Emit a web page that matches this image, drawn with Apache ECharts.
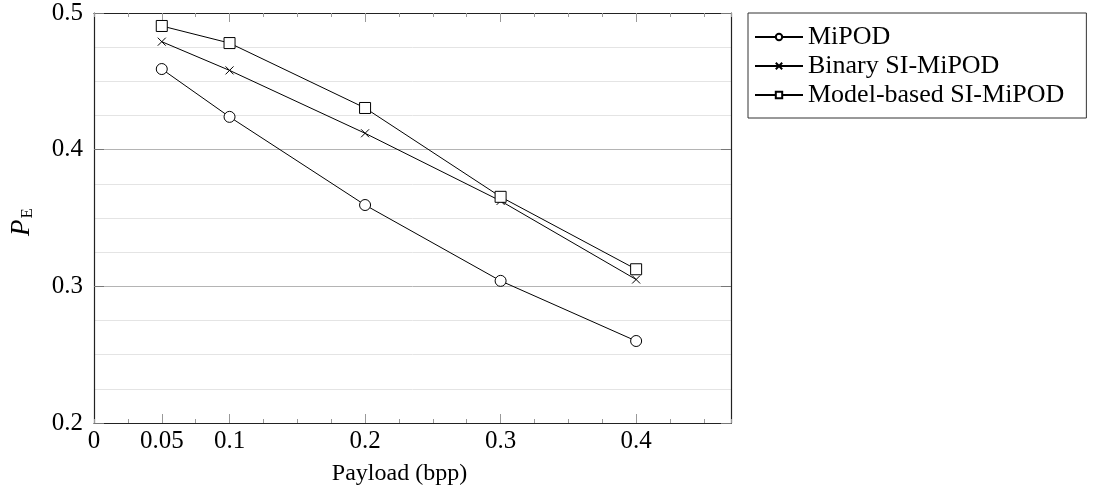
<!DOCTYPE html>
<html>
<head>
<meta charset="utf-8">
<script src="https://cdn.jsdelivr.net/npm/echarts@6/dist/echarts.min.js"></script>
<style>html,body{margin:0;padding:0;background:#fff;}#c{width:1093px;height:494px;}</style>
</head>
<body>
<div id="c"></div>
<script>
const payload = [0.05, 0.1, 0.2, 0.3, 0.4];
const mipod = [0.459, 0.424, 0.3595, 0.304, 0.260];
const binarySI = [0.479, 0.458, 0.412, 0.3625, 0.305];
const modelSI = [0.4905, 0.478, 0.4305, 0.3655, 0.3125];
const seriesNames = ['MiPOD', 'Binary SI-MiPOD', 'Model-based SI-MiPOD'];
const xLabelValues = [0, 0.05, 0.1, 0.2, 0.3, 0.4];
const xMajorTicks = [0.05, 0.1, 0.2, 0.3, 0.4];

const FONT = 'Liberation Serif';
const chart = echarts.init(document.getElementById('c'), null, {renderer: 'canvas'});
const pairs = arr => payload.map((x, i) => [x, arr[i]]);

const baseX = {
  type: 'value', min: 0, max: 0.47, gridIndex: 0,
  splitLine: {show: false}
};
const xAxes = [
  Object.assign({}, baseX, {
    position: 'bottom', interval: 0.025,
    axisLine: {show: true, onZero: false, lineStyle: {color: '#222', width: 1.2}},
    axisTick: {show: true, inside: true, length: 4, lineStyle: {color: '#999'}},
    axisLabel: {show: true, customValues: xLabelValues, margin: 6, color: '#000', fontFamily: FONT, fontSize: 25,
      formatter: v => String(+v.toFixed(3))},
    name: 'Payload (bpp)', nameLocation: 'middle', nameGap: 39,
    nameTextStyle: {color: '#000', fontFamily: FONT, fontSize: 24, padding: [0, 26, 0, 0]}
  }),
  Object.assign({}, baseX, {
    position: 'bottom',
    axisLine: {show: false, onZero: false},
    axisTick: {show: true, inside: true, length: 9, customValues: xMajorTicks, lineStyle: {color: '#999'}},
    axisLabel: {show: false}
  }),
  Object.assign({}, baseX, {
    position: 'top', interval: 0.025,
    axisLine: {show: true, onZero: false, lineStyle: {color: '#222', width: 1.2}},
    axisTick: {show: true, inside: true, length: 4, lineStyle: {color: '#999'}},
    axisLabel: {show: false}
  }),
  Object.assign({}, baseX, {
    position: 'top',
    axisLine: {show: false, onZero: false},
    axisTick: {show: true, inside: true, length: 9, customValues: xMajorTicks, lineStyle: {color: '#999'}},
    axisLabel: {show: false}
  })
];

const yAxes = [
  {
    type: 'value', position: 'left', min: 0.2, max: 0.5, interval: 0.1,
    axisLine: {show: true, onZero: false, lineStyle: {color: '#222', width: 1.2}},
    axisTick: {show: true, inside: true, length: 10, lineStyle: {color: '#777'}},
    axisLabel: {color: '#000', fontFamily: FONT, fontSize: 25, margin: 11, formatter: v => v.toFixed(1)},
    splitLine: {show: true, lineStyle: {color: '#b4b4b4', width: 1}},
    minorTick: {show: false, splitNumber: 4},
    minorSplitLine: {show: true, lineStyle: {color: '#e4e4e4', width: 1}},
    name: '{p|P}{e|E}', nameLocation: 'middle', nameGap: 58, nameRotate: 90,
    nameTextStyle: {
      rich: {
        p: {fontFamily: FONT, fontStyle: 'italic', fontSize: 27, color: '#000'},
        e: {fontFamily: FONT, fontSize: 17, color: '#000', verticalAlign: 'bottom', padding: [12, 8, 0, 1]}
      }
    }
  },
  {
    type: 'value', position: 'right', min: 0.2, max: 0.5, interval: 0.1,
    axisLine: {show: true, onZero: false, lineStyle: {color: '#222', width: 1.2}},
    axisTick: {show: true, inside: true, length: 10, lineStyle: {color: '#777'}},
    axisLabel: {show: false},
    splitLine: {show: false}
  }
];

const mkSeries = (name, data, symbol, size) => ({
  name, type: 'line', data: pairs(data), xAxisIndex: 0, yAxisIndex: 0,
  symbol, symbolSize: size, showAllSymbol: true,
  lineStyle: {color: '#000', width: 1},
  itemStyle: {color: '#fff', borderColor: '#000', borderWidth: 1},
  emphasis: {disabled: true}, animation: false, z: 5
});

chart.setOption({
  animation: false,
  backgroundColor: '#fff',
  grid: {left: 94, right: 362, top: 13, bottom: 71, containLabel: false},
  xAxis: xAxes,
  yAxis: yAxes,
  legend: {
    orient: 'vertical', left: 748, top: 13,
    data: seriesNames,
    itemWidth: 48, itemHeight: 8, itemGap: 3,
    padding: [11, 22, 10, 6],
    borderColor: '#333', borderWidth: 1,
    textStyle: {color: '#000', fontFamily: FONT, fontSize: 26},
    selectedMode: false
  },
  series: [
    mkSeries(seriesNames[0], mipod, 'circle', 11),
    mkSeries(seriesNames[1], binarySI, 'path://M0,0L10,10M0,10L10,0', 8),
    mkSeries(seriesNames[2], modelSI, 'rect', 11)
  ]
});
</script>
</body>
</html>
